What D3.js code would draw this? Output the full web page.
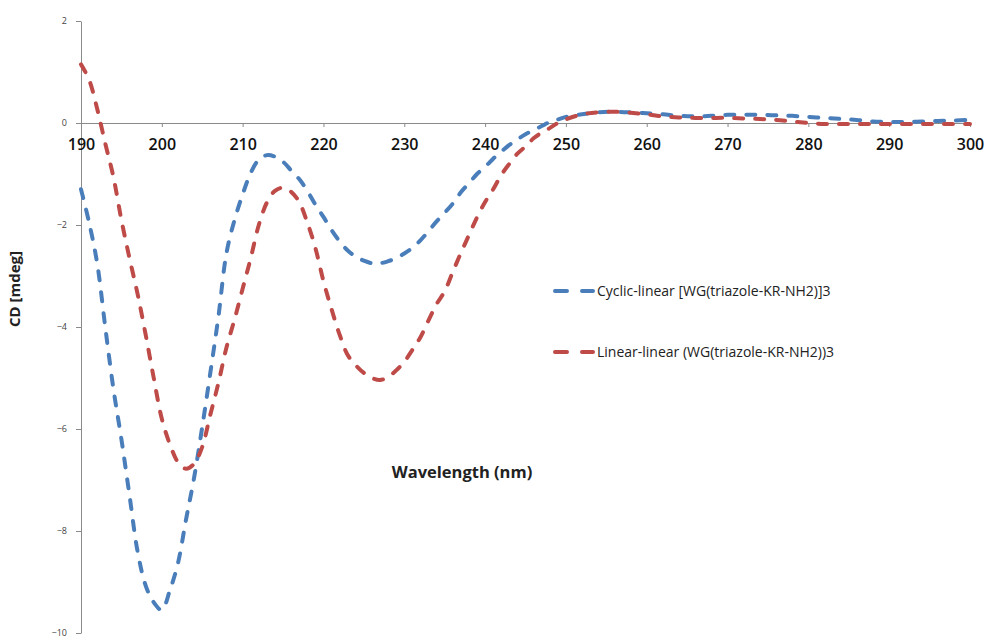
<!DOCTYPE html>
<html>
<head>
<meta charset="utf-8">
<script src="https://cdn.jsdelivr.net/npm/d3@7"></script>
<style>
  html, body { margin: 0; padding: 0; background: #fff; }
  svg { display: block; }
</style>
</head>
<body>
<svg id="chart" width="995" height="643"></svg>
<script>
// CD spectra of the two peptide constructs (wavelength in nm, CD in mdeg)
const wavelengths = [190,191,192,193,194,195,196,197,198,199,200,201,202,203,204,205,206,207,208,209,
  210,211,212,213,214,215,216,217,218,219,220,221,222,223,224,225,226,227,228,229,
  230,231,232,233,234,235,236,237,238,239,240,241,242,243,244,245,246,247,248,249,
  250,252,254,256,258,260,262,264,266,268,270,272,274,276,278,280,282,284,286,288,
  290,292,294,296,298,300];

const cyclicLinear = [-1.3,-1.95,-2.75,-4.0,-5.2,-6.2,-7.3,-8.4,-9.07,-9.4,-9.55,-9.16,-8.63,-7.77,-6.95,-5.96,-4.9,-3.8,-2.55,-1.9,
  -1.4,-0.98,-0.72,-0.63,-0.66,-0.76,-0.93,-1.1,-1.33,-1.6,-1.84,-2.1,-2.32,-2.5,-2.62,-2.7,-2.75,-2.75,-2.71,-2.65,
  -2.56,-2.45,-2.3,-2.12,-1.93,-1.76,-1.58,-1.36,-1.18,-1.0,-0.86,-0.7,-0.56,-0.43,-0.32,-0.22,-0.14,-0.06,0.02,0.07,
  0.12,0.17,0.21,0.22,0.21,0.19,0.17,0.14,0.13,0.14,0.16,0.16,0.16,0.15,0.14,0.12,0.1,0.08,0.06,0.03,
  0.02,0.02,0.03,0.04,0.05,0.06];

const linearLinear = [1.15,0.85,0.28,-0.4,-1.05,-1.9,-2.65,-3.35,-4.15,-5.0,-5.8,-6.3,-6.65,-6.78,-6.68,-6.35,-5.72,-5.1,-4.4,-3.85,
  -3.25,-2.65,-2.0,-1.56,-1.33,-1.27,-1.35,-1.55,-1.95,-2.45,-3.1,-3.65,-4.15,-4.55,-4.75,-4.9,-5.0,-5.04,-4.98,-4.85,
  -4.68,-4.45,-4.2,-3.87,-3.55,-3.3,-2.92,-2.55,-2.2,-1.85,-1.55,-1.3,-1.02,-0.8,-0.6,-0.46,-0.3,-0.19,-0.1,0.0,
  0.07,0.17,0.21,0.22,0.2,0.17,0.13,0.11,0.1,0.1,0.1,0.09,0.08,0.06,0.03,0.0,-0.02,-0.02,-0.02,-0.02,
  -0.02,-0.02,-0.02,-0.02,-0.02,-0.02];

const seriesNames = ["Cyclic-linear [WG(triazole-KR-NH2)]3", "Linear-linear (WG(triazole-KR-NH2))3"];
const seriesColors = ["#4a7ebb", "#be4b48"];
const xTicks = [190,200,210,220,230,240,250,260,270,280,290,300];
const yTicks = [2,0,-2,-4,-6,-8,-10];
const xTitle = "Wavelength (nm)";
const yTitle = "CD [mdeg]";

const svg = d3.select("#chart");
const x = d3.scaleLinear().domain([190, 300]).range([81, 970]);
const y = d3.scaleLinear().domain([-10, 2]).range([633, 21]);

const axisColor = "#8a8a8a";

// Y axis (left)
const yAxis = svg.append("g").attr("transform", `translate(${x(190)},0)`)
  .call(d3.axisLeft(y).tickValues(yTicks).tickSize(5).tickSizeOuter(0).tickPadding(9));
yAxis.select(".domain").attr("stroke", axisColor);
yAxis.selectAll(".tick line").attr("stroke", axisColor);
yAxis.selectAll(".tick text").attr("font-family", "Open Sans, sans-serif")
  .attr("font-size", 9).attr("fill", "#444");

// X axis crossing at CD = 0
const xAxis = svg.append("g").attr("transform", `translate(0,${y(0)})`)
  .call(d3.axisBottom(x).tickValues(xTicks).tickSize(4).tickSizeOuter(0).tickPadding(12));
xAxis.select(".domain").attr("stroke", axisColor);
xAxis.selectAll(".tick line").attr("stroke", axisColor);
xAxis.selectAll(".tick text").attr("font-family", "Open Sans, sans-serif")
  .attr("font-size", 16).attr("font-weight", 600).attr("fill", "#111");

// Spectra
const line = d3.line().x((d, i) => x(wavelengths[i])).y(d => y(d)).curve(d3.curveCatmullRom.alpha(0.5));
[cyclicLinear, linearLinear].forEach((vals, k) => {
  svg.append("path").datum(vals)
    .attr("d", line)
    .attr("fill", "none")
    .attr("stroke", seriesColors[k])
    .attr("stroke-width", 4)
    .attr("stroke-linecap", "round")
    .attr("stroke-dasharray", "9,12");
});

// Legend
const legendY = [291, 352];
seriesNames.forEach((name, k) => {
  const g = svg.append("g");
  g.append("line").attr("x1", 555).attr("x2", 593)
    .attr("y1", legendY[k]).attr("y2", legendY[k])
    .attr("stroke", seriesColors[k]).attr("stroke-width", 4)
    .attr("stroke-linecap", "round").attr("stroke-dasharray", "12,15");
  g.append("text").attr("x", 597).attr("y", legendY[k]).attr("dy", "0.35em")
    .attr("font-family", "Open Sans, sans-serif").attr("font-size", 14)
    .attr("fill", "#222").text(name);
});

// Axis titles
svg.append("text").attr("x", 462).attr("y", 472).attr("dy", "0.35em")
  .attr("text-anchor", "middle").attr("font-family", "Open Sans, sans-serif")
  .attr("font-size", 16.5).attr("font-weight", 700).attr("fill", "#222").text(xTitle);

svg.append("text").attr("transform", "translate(15,289) rotate(-90)").attr("dy", "0.35em")
  .attr("text-anchor", "middle").attr("font-family", "Open Sans, sans-serif")
  .attr("font-size", 15).attr("font-weight", 700).attr("fill", "#222").text(yTitle);
</script>
</body>
</html>
